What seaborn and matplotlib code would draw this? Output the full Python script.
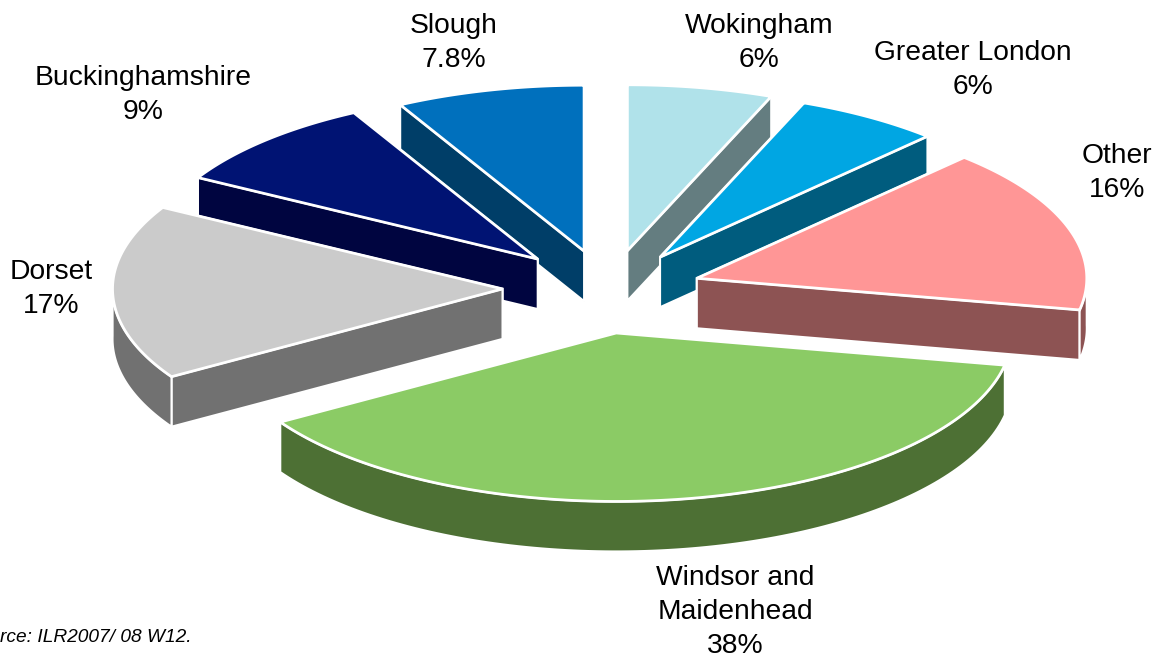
import numpy as np
import matplotlib
matplotlib.use("Agg")
import matplotlib.pyplot as plt
import seaborn as sns

labels = ["Wokingham", "Greater London", "Other", "Windsor and\nMaidenhead", "Dorset", "Buckinghamshire", "Slough"]
value_text = ["6%", "6%", "16%", "38%", "17%", "9%", "7.8%"]
values = [6, 6, 16, 38, 17, 9, 7.8]
explode = [0.21, 0.22, 0.25, 0.30, 0.25, 0.21, 0.21]
nudge_x = [12, 14, 4, -5, 0, -5, 4]
nudge_y = [-2, 1, 4, -3, 1, -3, -2]
scale = [1.0, 1.0, 1.0, 1.015, 1.0, 1.0, 1.0]
top_colors = ["#B0E2EA", "#00A6E3", "#FF9696", "#8BCB65", "#CBCBCB", "#001373", "#0070BD"]
side_colors = ["#647D80", "#005C7E", "#8D5353", "#4D7034", "#717171", "#000540", "#003E68"]
label_pos = [(759, 43), (973, 70), (1117, 173), (735, 612), (51, 289), (143, 95), (454, 43)]

CX, CY, RX, RY, DEPTH = 600, 287, 390, 166, 50

sns.set_theme(style="white")
plt.rcParams["font.family"] = ["Liberation Sans", "DejaVu Sans"]
fig = plt.figure(figsize=(11.67, 6.6), dpi=100)
ax = fig.add_axes([0, 0, 1, 1])
ax.set_xlim(0, 1167)
ax.set_ylim(660, 0)
ax.axis("off")

v = np.array(values, float)
edges = 90 - np.concatenate([[0], np.cumsum(v) / v.sum() * 360])

def proj(theta, r=1.0):
    t = np.radians(theta)
    return r * RX * np.cos(t), -r * RY * np.sin(t)

wedges = []
for i in range(len(v)):
    a0, a1 = edges[i], edges[i + 1]
    mid = (a0 + a1) / 2
    ox, oy = proj(mid, explode[i])
    apex = np.array([CX + ox + nudge_x[i], CY + oy + nudge_y[i]])
    th = np.linspace(a0, a1, 120)
    px, py = proj(th, scale[i])
    rim = np.column_stack([apex[0] + px, apex[1] + py])
    wedges.append((apex, rim, th, i))

wedges.sort(key=lambda w: w[0][1])
z = 2
for apex, rim, th, i in wedges:
    walls = []
    for end in (rim[0], rim[-1]):
        q = np.array([apex, end, end + [0, DEPTH], apex + [0, DEPTH]])
        walls.append((q[:, 1].mean(), q))
    s = np.sin(np.radians(th))
    vis = s < 0.02
    if vis.any():
        r = rim[vis]
        q = np.vstack([r, r[::-1] + [0, DEPTH]])
        walls.append((r[:, 1].mean() + 1000, q))
    for _, q in sorted(walls, key=lambda w: w[0]):
        ax.fill(q[:, 0], q[:, 1], facecolor=side_colors[i], edgecolor="white", lw=1.5, joinstyle="miter", zorder=z)
        z += 1
    top = np.vstack([apex, rim])
    ax.fill(top[:, 0], top[:, 1], facecolor=top_colors[i], edgecolor="white", lw=2, joinstyle="miter", zorder=z)
    z += 1

for i, (x, y) in enumerate(label_pos):
    ax.text(x, y, f"{labels[i]}\n{value_text[i]}", ha="center", va="center", fontsize=20.3, color="black", linespacing=1.42, zorder=z)

ax.text(192, 637, "Source: ILR2007/ 08 W12.", ha="right", va="center", fontsize=13.8, style="italic", color="black")
fig.savefig("out.png", dpi=100, facecolor="white")
